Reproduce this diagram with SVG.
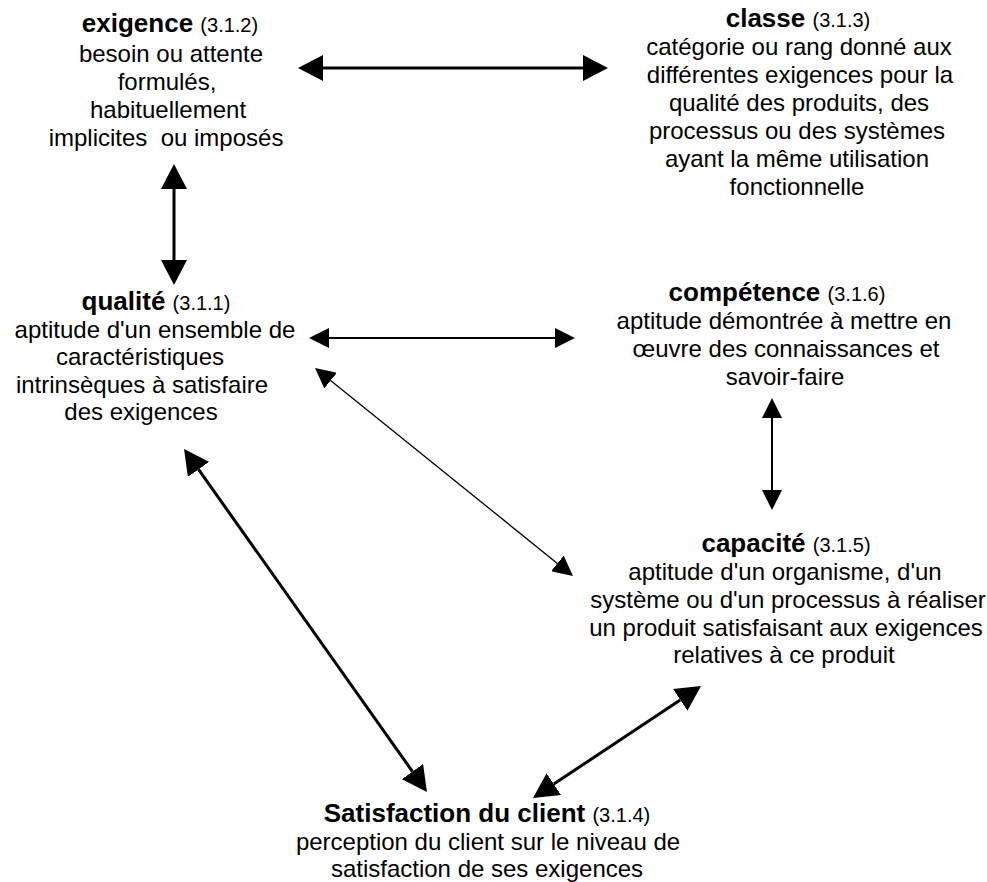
<svg xmlns="http://www.w3.org/2000/svg" width="987" height="882" viewBox="0 0 987 882">
  <style>
    text { font-family: "Liberation Sans", Arial, sans-serif; fill: #000; text-anchor: middle; }
    .body { font-size: 24px; }
    .title { font-size: 26px; font-weight: bold; }
    .ref { font-size: 20px; font-weight: normal; }
    .thick { stroke: #000; stroke-width: 3; fill: none; marker-start: url(#headL); marker-end: url(#headL); }
    .mid { stroke: #000; stroke-width: 2; fill: none; marker-start: url(#headS); marker-end: url(#headS); }
    .thin { stroke: #000; stroke-width: 1.3; fill: none; marker-start: url(#headS); marker-end: url(#headS); }
  </style>
  <defs>
    <!-- filled triangular heads; the line stops at the head's base -->
    <marker id="headL" markerUnits="userSpaceOnUse" viewBox="0 0 25 26" markerWidth="25" markerHeight="26" refX="0" refY="13" orient="auto-start-reverse">
      <path d="M0,0 L25,13 L0,26 Z" fill="#000"/>
    </marker>
    <marker id="headS" markerUnits="userSpaceOnUse" viewBox="0 0 20 20" markerWidth="20" markerHeight="20" refX="0" refY="10" orient="auto-start-reverse">
      <path d="M0,0 L20,10 L0,20 Z" fill="#000"/>
    </marker>
  </defs>

  <rect width="987" height="882" fill="#fff"/>

  <g id="connectors">
    <line class="thick" x1="323" y1="68" x2="583" y2="68"/>
    <line class="thick" x1="174" y1="189" x2="174" y2="260"/>
    <line class="mid" x1="329" y1="338" x2="555" y2="338"/>
    <line class="thin" x1="330.6" y1="380.6" x2="557.4" y2="563.4"/>
    <line class="mid" x1="772" y1="418" x2="772" y2="490"/>
    <line class="thick" x1="198.5" y1="469.4" x2="412.5" y2="771.6"/>
    <line class="thick" x1="553.8" y1="784.1" x2="680.2" y2="699.9"/>
  </g>

  <g id="exigence">
    <text class="title" x="170" y="32">exigence <tspan class="ref">(3.1.2)</tspan></text>
    <text class="body" x="171" y="62">besoin ou attente</text>
    <text class="body" x="167" y="90">formulés,</text>
    <text class="body" x="168" y="118">habituellement</text>
    <text class="body" x="166" y="146" xml:space="preserve">implicites  ou imposés</text>
  </g>

  <g id="classe">
    <text class="title" x="798" y="27">classe <tspan class="ref">(3.1.3)</tspan></text>
    <text class="body" x="799" y="55">catégorie ou rang donné aux</text>
    <text class="body" x="800" y="83">différentes exigences pour la</text>
    <text class="body" x="799" y="111">qualité des produits, des</text>
    <text class="body" x="797" y="139">processus ou des systèmes</text>
    <text class="body" x="797" y="167">ayant la même utilisation</text>
    <text class="body" x="797" y="195">fonctionnelle</text>
  </g>

  <g id="qualite">
    <text class="title" x="156" y="310">qualité <tspan class="ref">(3.1.1)</tspan></text>
    <text class="body" x="155" y="338">aptitude d'un ensemble de</text>
    <text class="body" x="140" y="365">caractéristiques</text>
    <text class="body" x="142" y="393">intrinsèques à satisfaire</text>
    <text class="body" x="141" y="420">des exigences</text>
  </g>

  <g id="competence">
    <text class="title" x="777" y="301">compétence <tspan class="ref">(3.1.6)</tspan></text>
    <text class="body" x="784" y="329">aptitude démontrée à mettre en</text>
    <text class="body" x="786" y="357">œuvre des connaissances et</text>
    <text class="body" x="785" y="385">savoir-faire</text>
  </g>

  <g id="capacite">
    <text class="title" x="786" y="552">capacité <tspan class="ref">(3.1.5)</tspan></text>
    <text class="body" x="785" y="580">aptitude d'un organisme, d'un</text>
    <text class="body" x="788" y="608">système ou d'un processus à réaliser</text>
    <text class="body" x="786" y="636">un produit satisfaisant aux exigences</text>
    <text class="body" x="784" y="663">relatives à ce produit</text>
  </g>

  <g id="satisfaction">
    <text class="title" x="487" y="822">Satisfaction du client <tspan class="ref">(3.1.4)</tspan></text>
    <text class="body" x="488" y="850">perception du client sur le niveau de</text>
    <text class="body" x="487" y="877">satisfaction de ses exigences</text>
  </g>
</svg>
